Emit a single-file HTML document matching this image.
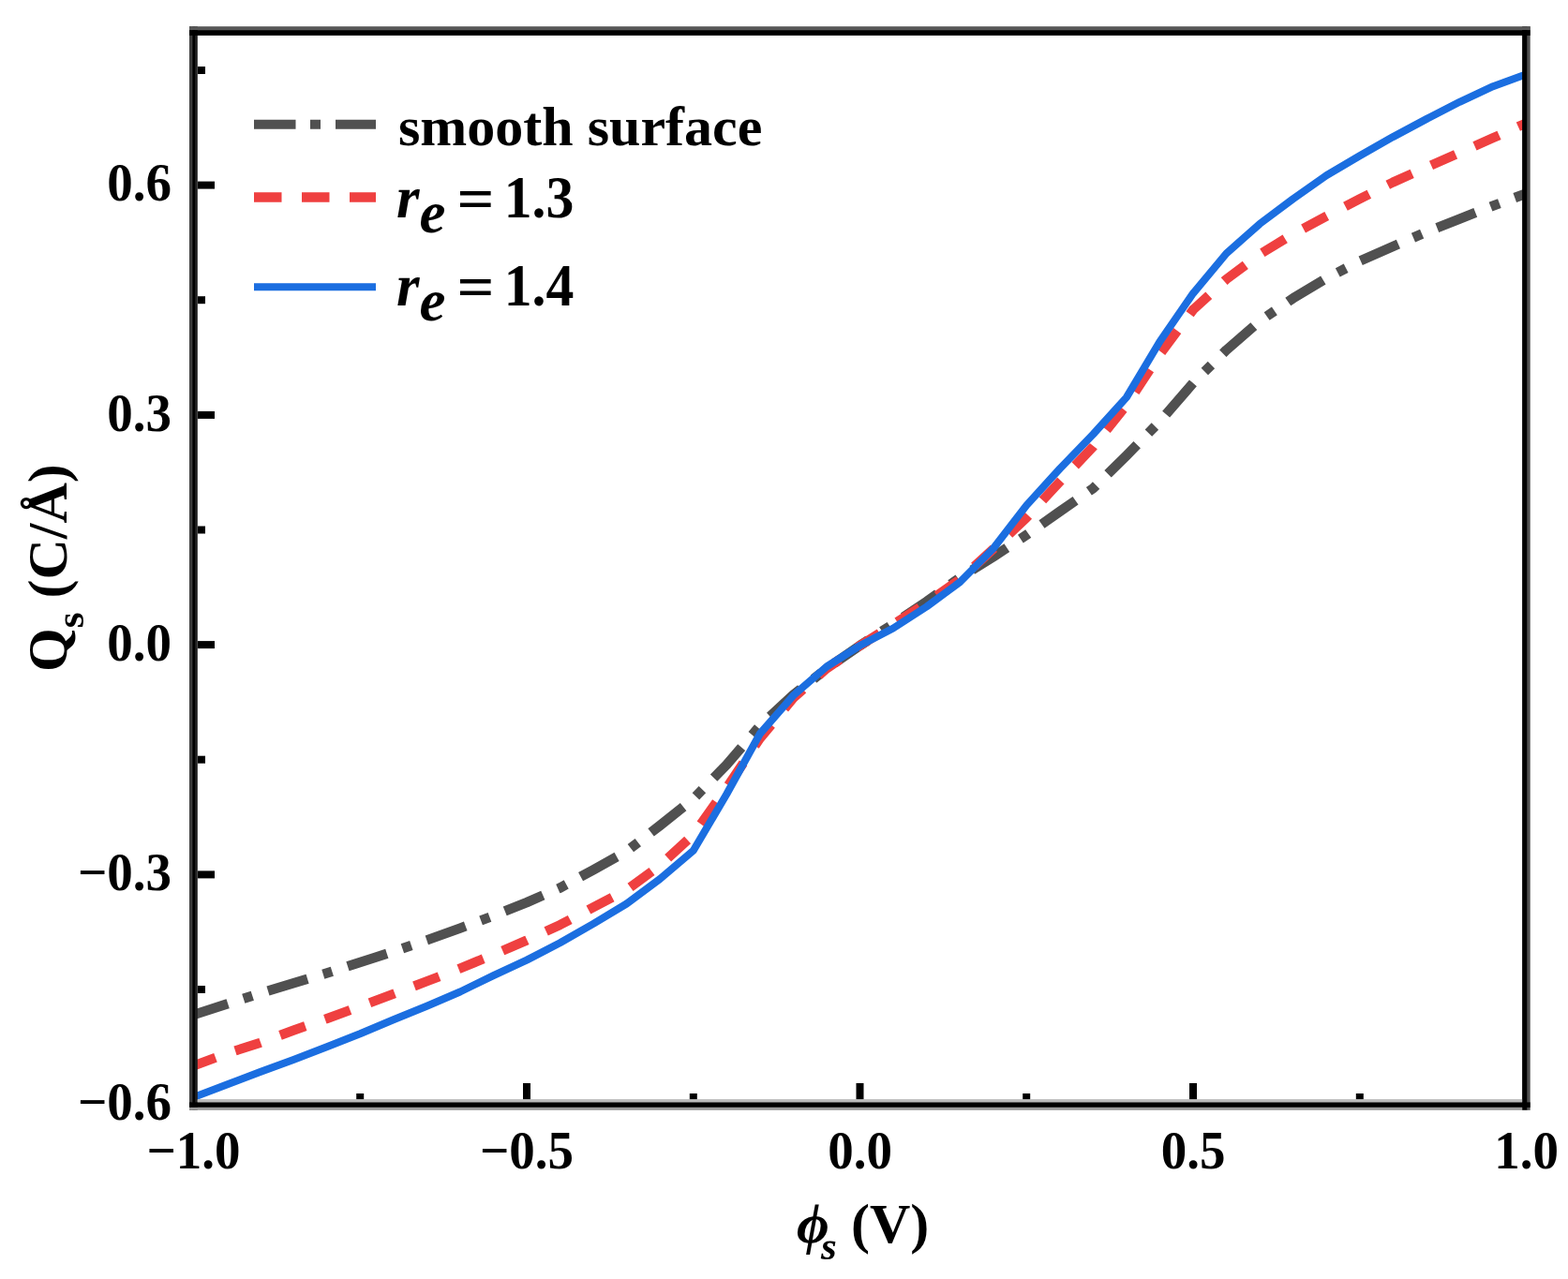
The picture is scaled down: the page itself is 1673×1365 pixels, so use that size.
<!DOCTYPE html>
<html><head><meta charset="utf-8"><title>Qs vs phi_s</title>
<style>
html,body{margin:0;padding:0;background:#fff;}
svg{display:block;}
.tl{font-family:"Liberation Serif","Times New Roman",serif;font-weight:bold;font-size:56.5px;fill:#000;}
.lg{font-family:"Liberation Serif","Times New Roman",serif;font-weight:bold;font-size:60px;fill:#000;}
.tk{stroke:#000;stroke-width:8;}
</style></head>
<body>
<svg width="1673" height="1365" viewBox="0 0 1673 1365">
<rect width="1673" height="1365" fill="#fff"/>
<defs><clipPath id="pc"><rect x="206.5" y="33" width="1422" height="1146.5"/></clipPath></defs>
<g clip-path="url(#pc)" fill="none" stroke-linejoin="round">
<path d="M206.5,1083.0 L242.1,1071.5 L277.6,1060.0 L313.1,1049.3 L348.7,1038.5 L384.2,1027.1 L419.8,1015.6 L455.4,1003.4 L490.9,990.6 L526.5,977.4 L562.0,963.1 L597.5,947.6 L633.1,928.3 L668.6,908.5 L704.2,881.0 L739.8,852.5 L775.3,816.2 L810.9,774.6 L846.4,741.6 L882.0,713.5 L917.5,689.0 L953.0,666.0 L988.6,642.0 L1024.2,616.5 L1059.7,594.3 L1095.2,570.9 L1130.8,545.9 L1166.3,521.2 L1201.9,486.2 L1237.5,449.8 L1273.0,408.7 L1308.5,373.6 L1344.1,342.6 L1379.7,318.3 L1415.2,297.1 L1450.8,278.7 L1486.3,263.0 L1521.8,247.6 L1557.4,233.6 L1593.0,219.6 L1628.5,206.5" stroke="#505050" stroke-width="10.5" stroke-dasharray="44 17.46 10 17.46" stroke-dashoffset="5.46"/>
<path d="M206.5,1137.5 L242.1,1124.3 L277.6,1112.8 L313.1,1099.6 L348.7,1087.1 L384.2,1074.0 L419.8,1060.8 L455.4,1047.3 L490.9,1033.4 L526.5,1018.9 L562.0,1003.5 L597.5,987.1 L633.1,968.2 L668.6,949.8 L704.2,923.6 L739.8,890.8 L775.3,840.7 L810.9,788.0 L846.4,745.0 L882.0,713.5 L917.5,689.0 L953.0,666.5 L988.6,643.5 L1024.2,618.5 L1059.7,586.0 L1095.2,552.5 L1130.8,514.1 L1166.3,476.8 L1201.9,432.3 L1237.5,378.0 L1273.0,330.6 L1308.5,298.0 L1344.1,271.4 L1379.7,249.8 L1415.2,230.8 L1450.8,212.2 L1486.3,194.5 L1521.8,178.6 L1557.4,162.9 L1593.0,147.2 L1628.5,131.3" stroke="#ef4040" stroke-width="10.2" stroke-dasharray="28.5 22.28" stroke-dashoffset="3.47"/>
<path d="M206.5,1171.0 L242.1,1157.5 L277.6,1144.0 L313.1,1131.0 L348.7,1117.3 L384.2,1103.3 L419.8,1088.3 L455.4,1073.7 L490.9,1058.5 L526.5,1041.1 L562.0,1024.6 L597.5,1006.3 L633.1,985.9 L668.6,964.5 L704.2,938.0 L739.8,907.8 L775.3,847.5 L810.9,783.0 L846.4,742.3 L882.0,711.5 L917.5,689.0 L953.0,670.5 L988.6,647.5 L1024.2,621.3 L1059.7,585.5 L1095.2,539.4 L1130.8,500.2 L1166.3,463.5 L1201.9,424.1 L1237.5,364.5 L1273.0,313.1 L1308.5,270.5 L1344.1,238.9 L1379.7,212.2 L1415.2,187.3 L1450.8,166.2 L1486.3,146.1 L1521.8,127.1 L1557.4,108.8 L1593.0,92.2 L1628.5,79.3" stroke="#1b6ee0" stroke-width="8"/>
</g>
<line x1="211" y1="197.6" x2="229" y2="197.6" class="tk"/><line x1="211" y1="442.9" x2="229" y2="442.9" class="tk"/><line x1="211" y1="688.1" x2="229" y2="688.1" class="tk"/><line x1="211" y1="933.4" x2="229" y2="933.4" class="tk"/><line x1="211" y1="75.0" x2="219" y2="75.0" class="tk"/><line x1="211" y1="320.2" x2="219" y2="320.2" class="tk"/><line x1="211" y1="565.5" x2="219" y2="565.5" class="tk"/><line x1="211" y1="810.7" x2="219" y2="810.7" class="tk"/><line x1="211" y1="1056.0" x2="219" y2="1056.0" class="tk"/><line x1="562.0" y1="1174" x2="562.0" y2="1156" class="tk"/><line x1="917.5" y1="1174" x2="917.5" y2="1156" class="tk"/><line x1="1273.0" y1="1174" x2="1273.0" y2="1156" class="tk"/><line x1="384.2" y1="1174" x2="384.2" y2="1167" class="tk"/><line x1="739.8" y1="1174" x2="739.8" y2="1167" class="tk"/><line x1="1095.2" y1="1174" x2="1095.2" y2="1167" class="tk"/><line x1="1450.8" y1="1174" x2="1450.8" y2="1167" class="tk"/>
<g>
<rect x="202" y="28.2" width="3.1" height="1156.6" fill="#3c3c3c"/>
<rect x="205.1" y="28.2" width="2.9" height="1156.6" fill="#000"/>
<rect x="208" y="28.2" width="2.8" height="1156.6" fill="#1f1f1f"/>
<rect x="1624.1" y="28.2" width="5.7" height="1156.6" fill="#000"/>
<rect x="1629.8" y="28.2" width="2.9" height="1156.6" fill="#505050"/>
<rect x="202" y="28.2" width="1430.7" height="3.9" fill="#575757"/>
<rect x="202" y="32.1" width="1430.7" height="5.8" fill="#000"/>
<rect x="210.8" y="1173.1" width="1413.3" height="3.3" fill="#bbb"/>
<rect x="202" y="1176.4" width="1430.7" height="5.5" fill="#000"/>
<rect x="202" y="1181.9" width="1422.1" height="2.9" fill="#9a9a9a"/>
</g>
<text x="183" y="214.3" text-anchor="end" class="tl" textLength="68.75" lengthAdjust="spacingAndGlyphs">0.6</text><text x="183" y="459.6" text-anchor="end" class="tl" textLength="68.75" lengthAdjust="spacingAndGlyphs">0.3</text><text x="183" y="704.8" text-anchor="end" class="tl" textLength="68.75" lengthAdjust="spacingAndGlyphs">0.0</text><text x="183" y="950.1" text-anchor="end" class="tl" textLength="100.09" lengthAdjust="spacingAndGlyphs">−0.3</text><text x="183" y="1195.3" text-anchor="end" class="tl" textLength="100.09" lengthAdjust="spacingAndGlyphs">−0.6</text>
<text x="206.5" y="1246.6" text-anchor="middle" class="tl" textLength="100.09" lengthAdjust="spacingAndGlyphs">−1.0</text><text x="562.0" y="1246.6" text-anchor="middle" class="tl" textLength="100.09" lengthAdjust="spacingAndGlyphs">−0.5</text><text x="917.5" y="1246.6" text-anchor="middle" class="tl" textLength="68.75" lengthAdjust="spacingAndGlyphs">0.0</text><text x="1273.0" y="1246.6" text-anchor="middle" class="tl" textLength="68.75" lengthAdjust="spacingAndGlyphs">0.5</text><text x="1628.5" y="1246.6" text-anchor="middle" class="tl" textLength="68.75" lengthAdjust="spacingAndGlyphs">1.0</text>
<!-- legend -->
<line x1="271" y1="132.7" x2="401" y2="132.7" stroke="#505050" stroke-width="10" stroke-dasharray="44.5 15.5 11 16"/>
<line x1="271" y1="210.4" x2="401" y2="210.4" stroke="#ef4040" stroke-width="10.5" stroke-dasharray="29.5 21.5"/>
<line x1="271" y1="306.2" x2="401" y2="306.2" stroke="#1b6ee0" stroke-width="8"/>
<text x="425" y="155" class="lg">smooth surface</text>
<text y="232.4" class="lg" style="font-size:63px"><tspan x="423.1" font-style="italic">r</tspan><tspan x="447.5" y="248.1" font-style="italic">e</tspan><tspan x="487.6" y="233.9" textLength="40" lengthAdjust="spacingAndGlyphs">=</tspan><tspan x="537.7" y="232.4" textLength="74.7" lengthAdjust="spacingAndGlyphs">1.3</tspan></text>
<text y="326.3" class="lg" style="font-size:63px"><tspan x="423.1" font-style="italic">r</tspan><tspan x="447.5" y="342.0" font-style="italic">e</tspan><tspan x="487.6" y="327.8" textLength="40" lengthAdjust="spacingAndGlyphs">=</tspan><tspan x="537.7" y="326.3" textLength="74.7" lengthAdjust="spacingAndGlyphs">1.4</tspan></text>
<!-- axis titles -->
<text x="850" y="1326" class="lg"><tspan font-style="italic">ϕ</tspan><tspan font-style="italic" font-size="43" x="876" dy="18">s</tspan><tspan x="908" dy="-18">(V)</tspan></text>
<text transform="translate(71,717) rotate(-90)" class="lg">Q<tspan font-size="43" dy="18">s</tspan><tspan dy="-18"> (C/Å)</tspan></text>
</svg>
</body></html>
